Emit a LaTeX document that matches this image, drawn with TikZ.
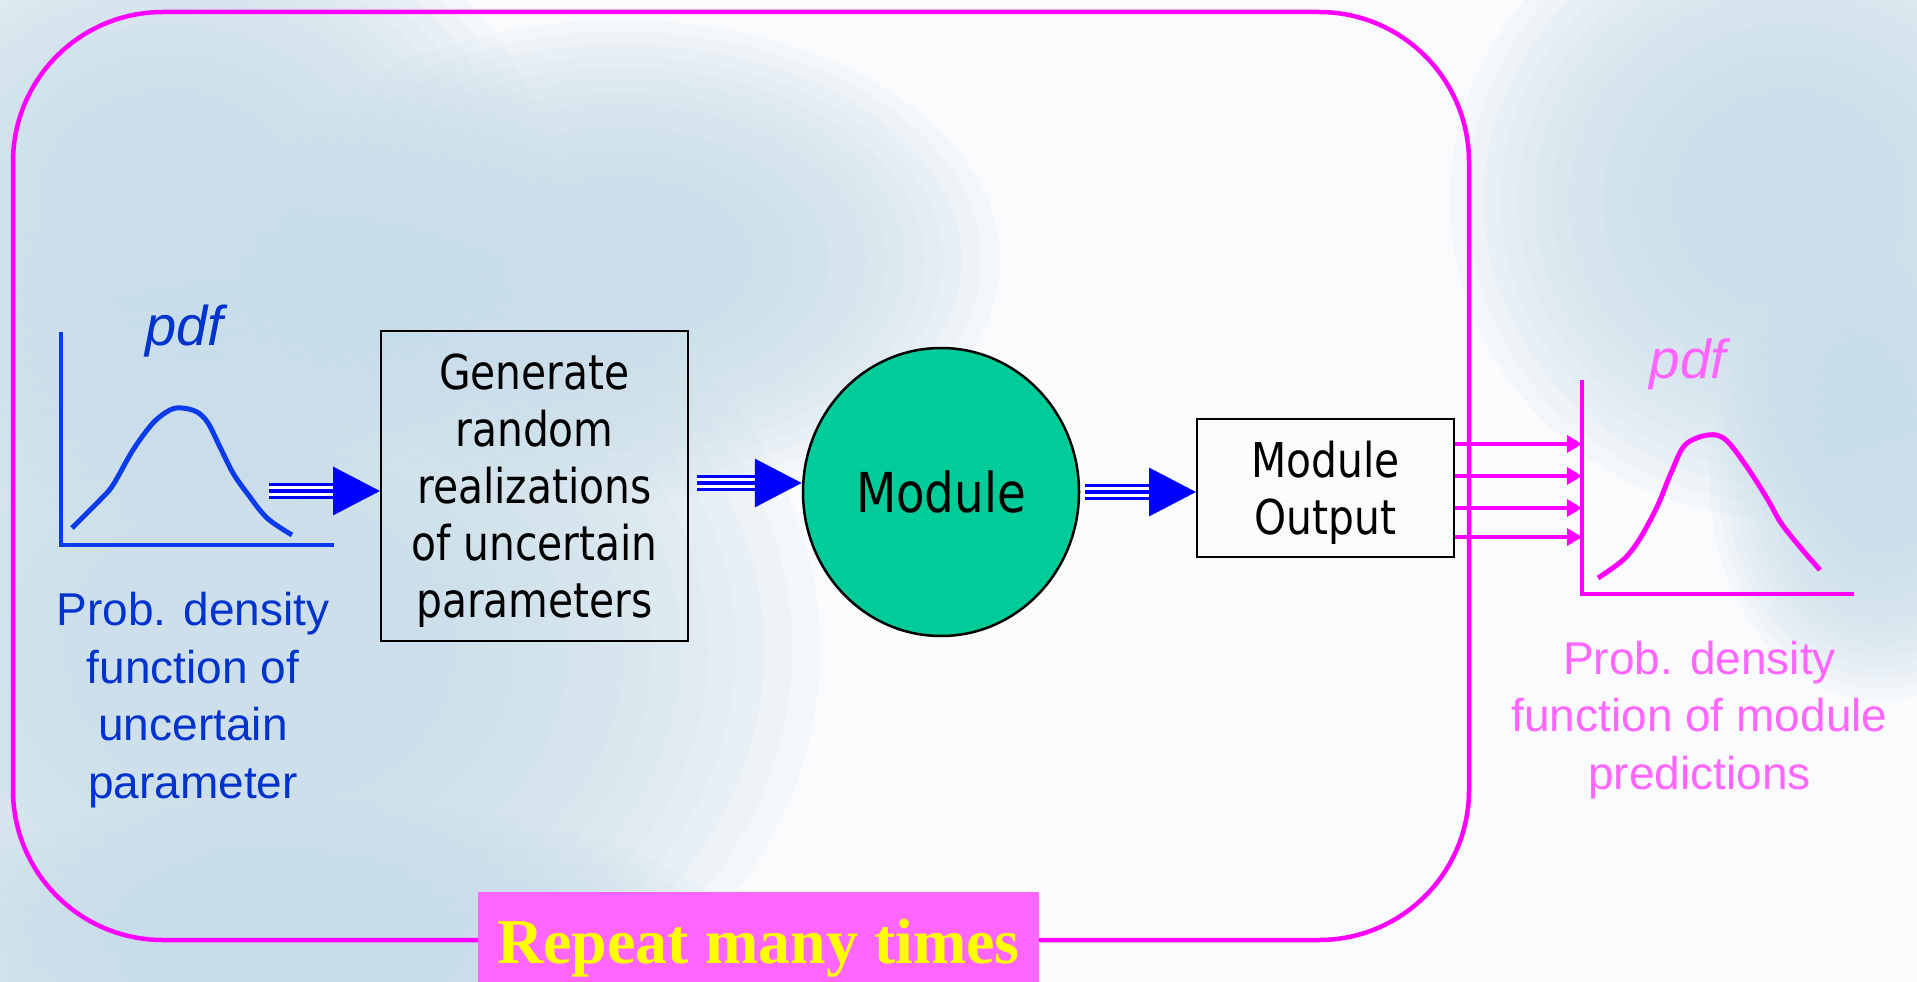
\documentclass[tikz,border=0pt]{standalone}
\usepackage{fontspec}
\setmainfont{Liberation Sans}
\newfontfamily\boxfont[FakeStretch=0.85]{DejaVu Sans}
\newfontfamily\bannerfont{Liberation Serif}
\usetikzlibrary{arrows.meta,shapes.geometric}

\definecolor{skywhite}{RGB}{249,251,252}
\definecolor{skyblue}{RGB}{200,221,234}
\definecolor{loopmag}{RGB}{255,0,255}
\definecolor{pinktext}{RGB}{255,102,255}
\definecolor{labelblue}{RGB}{0,51,204}
\definecolor{curveblue}{RGB}{10,60,235}
\definecolor{modgreen}{RGB}{0,204,153}
\definecolor{bannerfill}{RGB}{255,102,255}
\definecolor{bannertext}{RGB}{255,255,0}

% soft-edged cloud patch: stacked translucent ellipses
\newcommand\skypatch[3]{%
  \foreach \s in {1,0.95,0.9,0.85,0.8,0.75,0.7,0.65,0.6,0.55,0.5,0.45,0.4,0.35}
    \fill[skyblue, opacity=0.12] (#1) ellipse ({#2*\s} and {#3*\s});}

\tikzset{
  procbox/.style={draw=black, line width=2pt, align=center, inner sep=0pt,
    font={\boxfont\fontsize{48pt}{57pt}\selectfont}},
  modcircle/.style={ellipse, draw=black, line width=2.5pt, fill=modgreen, inner sep=0pt,
    minimum width=276pt, minimum height=288pt, font={\boxfont\fontsize{55pt}{60pt}\selectfont}},
  bigarrow/.style={draw=blue, line width=3.5pt, -{Triangle[length=47pt,width=48pt]},
    preaction={-, draw=blue, line width=3.5pt, double=white, double distance=9.5pt, shorten >=44pt}},
  magarrow/.style={draw=loopmag, line width=4pt, -{Triangle[length=15pt,width=17pt]}},
  axisline/.style={line width=4pt, line cap=butt},
  pdfcurve/.style={line width=5pt, line join=round},
  pdftag/.style={font={\itshape\fontsize{56pt}{60pt}\selectfont}},
  caption/.style={align=center, inner sep=0pt, font={\fontsize{46pt}{57.5pt}\selectfont}},
  banner/.style={fill=bannerfill, text=bannertext, inner xsep=0pt, inner ysep=5pt,
    minimum width=561pt, text height=66pt, text depth=14pt,
    font={\bannerfont\bfseries\fontsize{64pt}{70pt}\selectfont}}
}

\begin{document}
\begin{tikzpicture}[x=1pt,y=-1pt]
\useasboundingbox (0,0) rectangle (1917,982);

% sky background
\fill[skywhite] (0,0) rectangle (1917,982);
\skypatch{260,650}{560}{460}
\skypatch{170,200}{380}{320}
\skypatch{620,260}{380}{240}
\skypatch{300,960}{450}{160}
\skypatch{1790,200}{340}{320}
\skypatch{1880,480}{170}{220}

% repeat loop
\draw[loopmag, line width=4.5pt, rounded corners=150pt] (13,12) rectangle (1469,940);

% input pdf chart
\draw[curveblue, axisline] (61,332) -- (61,545) -- (334,545);
\coordinate (lax) at (61,545);
\draw[curveblue, pdfcurve] plot[smooth, tension=0.55] coordinates {
  (72,528) (100,500) (113,485) (133,450) (153,423) (170,410) (182,408)
  (197,412) (208,423) (220,447) (233,473) (247,493) (267,518) (292,535)};
\node[labelblue, pdftag] (pdfL) at (184,331) {pdf};
\node[labelblue, caption] (capL) at (193,700) {Prob. density\\function of\\uncertain\\parameter};

% output pdf chart
\draw[loopmag, axisline] (1582,380) -- (1582,594) -- (1854,594);
\coordinate (rax) at (1582,594);
\draw[loopmag, pdfcurve] plot[smooth, tension=0.55] coordinates {
  (1598,578) (1623,560) (1639,540) (1657,507) (1671,473) (1685,445) (1708,435)
  (1726,440) (1749,470) (1768,500) (1781,523) (1800,547) (1820,570)};
\node[pinktext, pdftag, font={\itshape\fontsize{55pt}{60pt}\selectfont}] (pdfR) at (1688,364) {pdf};
\node[pinktext, caption] (capR) at (1699.5,720) {Prob. density\\function of module\\predictions};

% process chain
\node[procbox, minimum width=307pt, minimum height=310pt] (gen) at (534.5,486)
  {\rule{0pt}{45pt}Generate\\random\\realizations\\of uncertain\\parameters};
\node[modcircle] (mod) at (941,492) {Module};
\node[procbox, minimum width=257pt, minimum height=138pt] (out) at (1325.5,488)
  {\rule{0pt}{45pt}Module\\Output};

\coordinate (s1) at (269,491);
\draw[bigarrow] (s1) -- (s1 -| gen.west);
\coordinate (s2) at (697,483);
\draw[bigarrow] (s2) -- (s2 -| mod.west);
\coordinate (s3) at (1085,492);
\draw[bigarrow] (s3) -- (s3 -| out.west);

\foreach \yy in {444,476,508,537} {
  \coordinate (m) at (0,\yy);
  \draw[magarrow] (out.east |- m) -- (rax |- m);
}

% loop caption
\node[banner, anchor=north] (rep) at (758.5,892) {Repeat many times};
\end{tikzpicture}
\end{document}
